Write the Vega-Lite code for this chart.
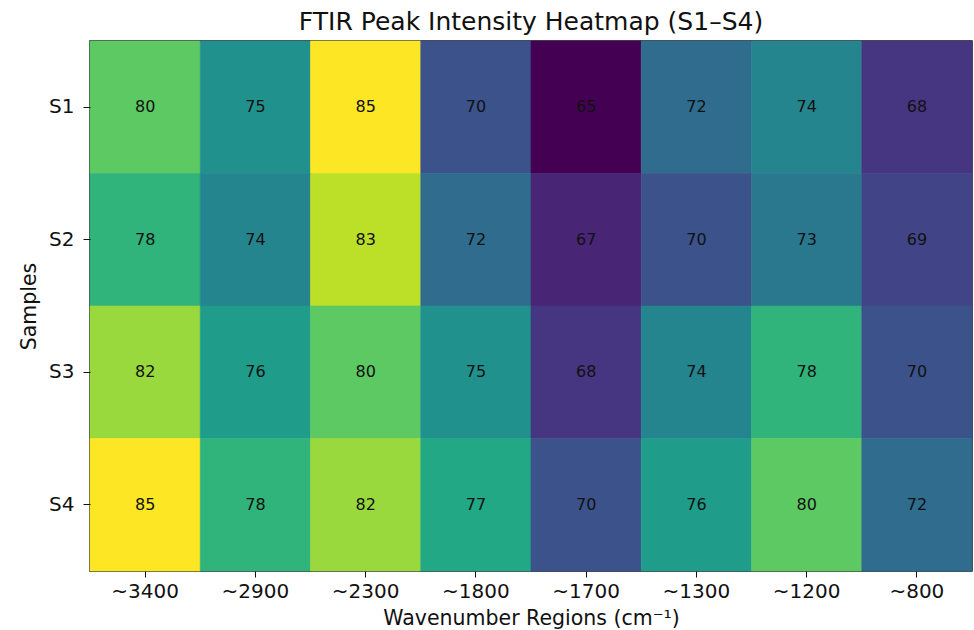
{
  "$schema": "https://vega.github.io/schema/vega-lite/v6.json",
  "width": 882,
  "height": 530,
  "autosize": {"type": "none"},
  "padding": {"left": 90, "top": 41, "right": 2, "bottom": 59},
  "background": "white",
  "title": {"text": "FTIR Peak Intensity Heatmap (S1–S4)", "font": "DejaVu Sans", "fontSize": 25, "fontWeight": "normal", "color": "#111", "offset": 6},
  "data": {"values": [
    {"sample": "S1", "region": "~3400", "v": 80}, {"sample": "S1", "region": "~2900", "v": 75}, {"sample": "S1", "region": "~2300", "v": 85}, {"sample": "S1", "region": "~1800", "v": 70}, {"sample": "S1", "region": "~1700", "v": 65}, {"sample": "S1", "region": "~1300", "v": 72}, {"sample": "S1", "region": "~1200", "v": 74}, {"sample": "S1", "region": "~800", "v": 68},
    {"sample": "S2", "region": "~3400", "v": 78}, {"sample": "S2", "region": "~2900", "v": 74}, {"sample": "S2", "region": "~2300", "v": 83}, {"sample": "S2", "region": "~1800", "v": 72}, {"sample": "S2", "region": "~1700", "v": 67}, {"sample": "S2", "region": "~1300", "v": 70}, {"sample": "S2", "region": "~1200", "v": 73}, {"sample": "S2", "region": "~800", "v": 69},
    {"sample": "S3", "region": "~3400", "v": 82}, {"sample": "S3", "region": "~2900", "v": 76}, {"sample": "S3", "region": "~2300", "v": 80}, {"sample": "S3", "region": "~1800", "v": 75}, {"sample": "S3", "region": "~1700", "v": 68}, {"sample": "S3", "region": "~1300", "v": 74}, {"sample": "S3", "region": "~1200", "v": 78}, {"sample": "S3", "region": "~800", "v": 70},
    {"sample": "S4", "region": "~3400", "v": 85}, {"sample": "S4", "region": "~2900", "v": 78}, {"sample": "S4", "region": "~2300", "v": 82}, {"sample": "S4", "region": "~1800", "v": 77}, {"sample": "S4", "region": "~1700", "v": 70}, {"sample": "S4", "region": "~1300", "v": 76}, {"sample": "S4", "region": "~1200", "v": 80}, {"sample": "S4", "region": "~800", "v": 72}
  ]},
  "encoding": {
    "x": {"field": "region", "type": "nominal", "sort": ["~3400", "~2900", "~2300", "~1800", "~1700", "~1300", "~1200", "~800"],
      "scale": {"paddingInner": 0, "paddingOuter": 0},
      "axis": {"title": "Wavenumber Regions (cm⁻¹)", "labelAngle": 0, "labelFont": "DejaVu Sans", "labelFontSize": 20, "labelColor": "#111", "titleFont": "DejaVu Sans", "titleFontSize": 20.5, "titleFontWeight": "normal", "titleColor": "#111", "tickSize": 6, "tickColor": "#111", "domain": false, "labelPadding": 4, "titlePadding": 7}},
    "y": {"field": "sample", "type": "nominal", "sort": ["S1", "S2", "S3", "S4"],
      "scale": {"paddingInner": 0, "paddingOuter": 0},
      "axis": {"title": "Samples", "labelFont": "DejaVu Sans", "labelFontSize": 20, "labelColor": "#111", "titleFont": "DejaVu Sans", "titleFontSize": 20.5, "titleFontWeight": "normal", "titleColor": "#111", "tickSize": 7, "tickColor": "#111", "domain": false, "labelPadding": 9, "titlePadding": 9}}
  },
  "layer": [
    {"mark": {"type": "rect", "strokeWidth": 0.6}, "encoding": {
      "color": {"field": "v", "type": "quantitative", "scale": {"scheme": "viridis", "domain": [65, 85]}, "legend": null},
      "stroke": {"field": "v", "type": "quantitative", "scale": {"scheme": "viridis", "domain": [65, 85]}, "legend": null}}},
    {"mark": {"type": "text", "font": "DejaVu Sans", "fontSize": 16, "color": "#111"}, "encoding": {"text": {"field": "v", "type": "quantitative"}}}
  ],
  "config": {"view": {"stroke": "#111", "strokeWidth": 1.5}}
}
